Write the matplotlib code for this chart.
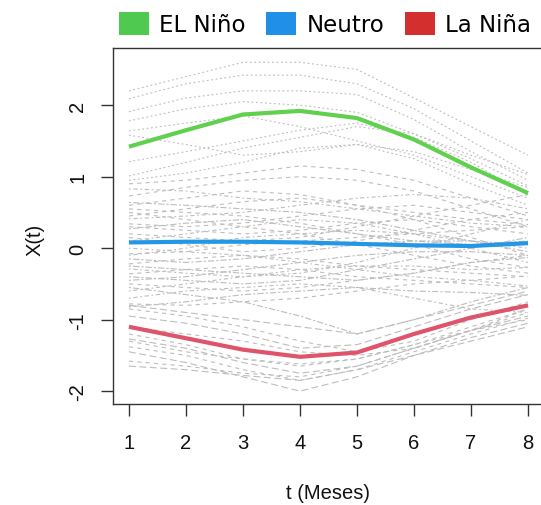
"""Curvas funcionales del indice ENSO por mes, con la media de cada fase."""

import matplotlib

matplotlib.use("Agg")
import matplotlib.pyplot as plt
from matplotlib.patches import Patch

meses = [1, 2, 3, 4, 5, 6, 7, 8]

# curvas individuales (gris)
curvas_nino = [
    [2.20, 2.40, 2.60, 2.60, 2.50, 2.10, 1.70, 1.30],
    [2.09, 2.30, 2.42, 2.42, 2.30, 1.95, 1.50, 1.05],
    [1.91, 2.10, 2.20, 2.20, 2.15, 1.80, 1.35, 0.95],
    [1.78, 1.95, 2.05, 2.00, 1.90, 1.60, 1.25, 0.87],
    [1.64, 1.75, 1.85, 1.70, 1.50, 1.30, 1.00, 0.70],
    [1.58, 1.45, 1.30, 1.35, 1.45, 1.35, 1.10, 0.85],
    [1.21, 1.35, 1.50, 1.65, 1.75, 1.55, 1.20, 0.75],
    [1.01, 1.20, 1.40, 1.55, 1.70, 1.60, 1.30, 1.03],
    [0.95, 1.05, 1.20, 1.40, 1.45, 1.25, 0.90, 0.60],
]
curvas_neutro = [
    [0.83, 0.80, 0.70, 0.65, 0.55, 0.45, 0.35, 0.30],
    [0.73, 0.85, 0.95, 1.00, 0.95, 0.80, 0.55, 0.30],
    [0.64, 0.60, 0.55, 0.50, 0.40, 0.25, 0.10, -0.05],
    [0.60, 0.70, 0.80, 0.75, 0.60, 0.40, 0.15, -0.10],
    [0.41, 0.45, 0.50, 0.60, 0.70, 0.75, 0.70, 0.55],
    [0.34, 0.30, 0.35, 0.45, 0.55, 0.60, 0.50, 0.40],
    [0.27, 0.35, 0.40, 0.30, 0.20, 0.10, 0.05, 0.10],
    [0.20, 0.15, 0.10, 0.15, 0.30, 0.45, 0.60, 0.75],
    [0.10, 0.20, 0.30, 0.40, 0.35, 0.20, 0.00, -0.20],
    [-0.08, -0.05, 0.05, 0.10, 0.15, 0.20, 0.25, 0.30],
    [-0.15, -0.20, -0.15, -0.05, 0.05, 0.10, 0.10, 0.05],
    [-0.22, -0.15, -0.10, -0.15, -0.25, -0.30, -0.35, -0.40],
    [-0.29, -0.35, -0.40, -0.35, -0.20, 0.00, 0.20, 0.40],
    [-0.36, -0.30, -0.25, -0.30, -0.40, -0.45, -0.50, -0.55],
    [-0.40, -0.45, -0.50, -0.45, -0.30, -0.15, 0.00, 0.15],
    [-0.50, -0.55, -0.60, -0.55, -0.45, -0.35, -0.20, -0.10],
    [-0.60, -0.50, -0.40, -0.30, -0.25, -0.25, -0.30, -0.27],
    [-0.78, -0.80, -0.75, -0.70, -0.60, -0.50, -0.45, -0.39],
    [-0.82, -0.75, -0.65, -0.60, -0.55, -0.60, -0.62, -0.66],
    [0.50, 0.40, 0.30, 0.20, 0.05, -0.10, -0.25, -0.35],
    [0.00, -0.05, -0.10, -0.20, -0.30, -0.40, -0.45, -0.53],
    [0.30, 0.25, 0.20, 0.25, 0.35, 0.40, 0.30, 0.20],
    [-0.25, -0.30, -0.35, -0.40, -0.45, -0.35, -0.20, -0.13],
    [0.45, 0.55, 0.65, 0.70, 0.60, 0.50, 0.40, 0.33],
    [-0.70, -0.60, -0.55, -0.50, -0.55, -0.70, -0.85, -0.90],
    [0.15, 0.05, -0.05, 0.00, 0.10, 0.25, 0.40, 0.50],
    [-0.45, -0.40, -0.30, -0.20, -0.10, -0.05, -0.05, -0.10],
    [0.90, 0.95, 1.05, 1.15, 1.10, 0.95, 0.70, 0.45],
    [-0.10, 0.00, 0.15, 0.20, 0.25, 0.20, 0.10, 0.00],
    [0.55, 0.50, 0.45, 0.35, 0.20, 0.05, -0.15, -0.27],
    [-0.55, -0.65, -0.75, -0.95, -1.20, -1.00, -0.75, -0.55],
]
curvas_nina = [
    [-1.20, -1.35, -1.55, -1.65, -1.55, -1.35, -1.15, -1.00],
    [-1.27, -1.40, -1.60, -1.75, -1.65, -1.40, -1.15, -0.95],
    [-1.38, -1.50, -1.70, -1.85, -1.70, -1.45, -1.20, -0.98],
    [-1.45, -1.60, -1.80, -2.00, -1.80, -1.50, -1.25, -1.05],
    [-1.58, -1.65, -1.75, -1.80, -1.65, -1.40, -1.15, -0.90],
    [-1.65, -1.70, -1.78, -1.85, -1.70, -1.50, -1.30, -1.10],
    [-0.85, -0.95, -1.10, -1.30, -1.45, -1.30, -1.00, -0.75],
    [-0.95, -1.05, -1.20, -1.40, -1.35, -1.10, -0.85, -0.65],
    [-1.10, -1.20, -1.30, -1.45, -1.50, -1.40, -1.15, -0.85],
    [-0.80, -0.90, -1.00, -1.10, -1.20, -1.00, -0.80, -0.60],
    [-1.30, -1.45, -1.55, -1.62, -1.55, -1.35, -1.10, -0.85],
]

# medias por fase
media_nino = [1.42, 1.65, 1.87, 1.92, 1.82, 1.52, 1.13, 0.77]
media_neutro = [0.08, 0.09, 0.09, 0.08, 0.06, 0.04, 0.03, 0.07]
media_nina = [-1.10, -1.26, -1.42, -1.52, -1.46, -1.20, -0.97, -0.80]

fases = ["EL Niño", "Neutro", "La Niña"]
colores_linea = ["#61D04F", "#2297E6", "#DF536B"]
colores_leyenda = ["#4FC94F", "#1F8FE8", "#D32F2F"]

# patrones de linea tipo R por grupo
punteado = [(1.3, 1.9)]
mixto = [(1.2, 2.0, 3, 2.0), (3, 3), (1.5, 1.5, 4.5, 1.5), (3, 3)]
rayado = [(3, 3), (5, 2.5)]

plt.rcParams["lines.scale_dashes"] = False
plt.rcParams["font.family"] = ["Liberation Sans", "DejaVu Sans"]

fig = plt.figure(figsize=(5.41, 5.06), dpi=100)
ax = fig.add_axes([113 / 541, 101 / 506, 431 / 541, 356 / 506])

for curvas, estilos in [(curvas_nino, punteado), (curvas_neutro, mixto),
                        (curvas_nina, rayado)]:
    for i, curva in enumerate(curvas):
        ax.plot(meses, curva, color="#BDBDBD", lw=0.8,
                linestyle=(0, estilos[i % len(estilos)]), zorder=1)

for media, color in zip([media_nino, media_neutro, media_nina], colores_linea):
    ax.plot(meses, media, color=color, lw=3, solid_capstyle="butt", zorder=3)

ax.set_xlim(0.72, 8.28)
ax.set_ylim(-2.18, 2.8)
ax.set_xticks(meses)
ax.set_yticks([-2, -1, 0, 1, 2])
ax.set_yticklabels(["-2", "-1", "0", "1", "2"], rotation=90, va="center")

for lado in ["left", "bottom", "top", "right"]:
    ax.spines[lado].set_color("#333333")
    ax.spines[lado].set_linewidth(1.0)
ax.tick_params(direction="out", length=8.6, width=1.0, color="#333333",
               labelsize=14.5, labelcolor="#111111")
ax.tick_params(axis="x", pad=12)
ax.tick_params(axis="y", pad=10)

ax.set_xlabel("t (Meses)", fontsize=14.5, color="#111111")
ax.xaxis.set_label_coords(0.5, -0.25)
ax.xaxis.label.set_va("center")
ax.set_ylabel("X(t)", fontsize=14.5, color="#111111")
ax.yaxis.set_label_coords(-0.181, 0.463)
ax.yaxis.label.set_va("center")

handles = [Patch(facecolor=c, edgecolor="none") for c in colores_leyenda]
fig.legend(handles, fases, loc="center", bbox_to_anchor=(325 / 541, 1 - 25 / 506),
           ncol=3, frameon=False, prop={"family": "DejaVu Sans", "size": 16.5},
           handlelength=1.3, handleheight=1.22, handletextpad=0.45,
           columnspacing=0.9, borderaxespad=0, borderpad=0)

fig.savefig("out.png", dpi=100)
